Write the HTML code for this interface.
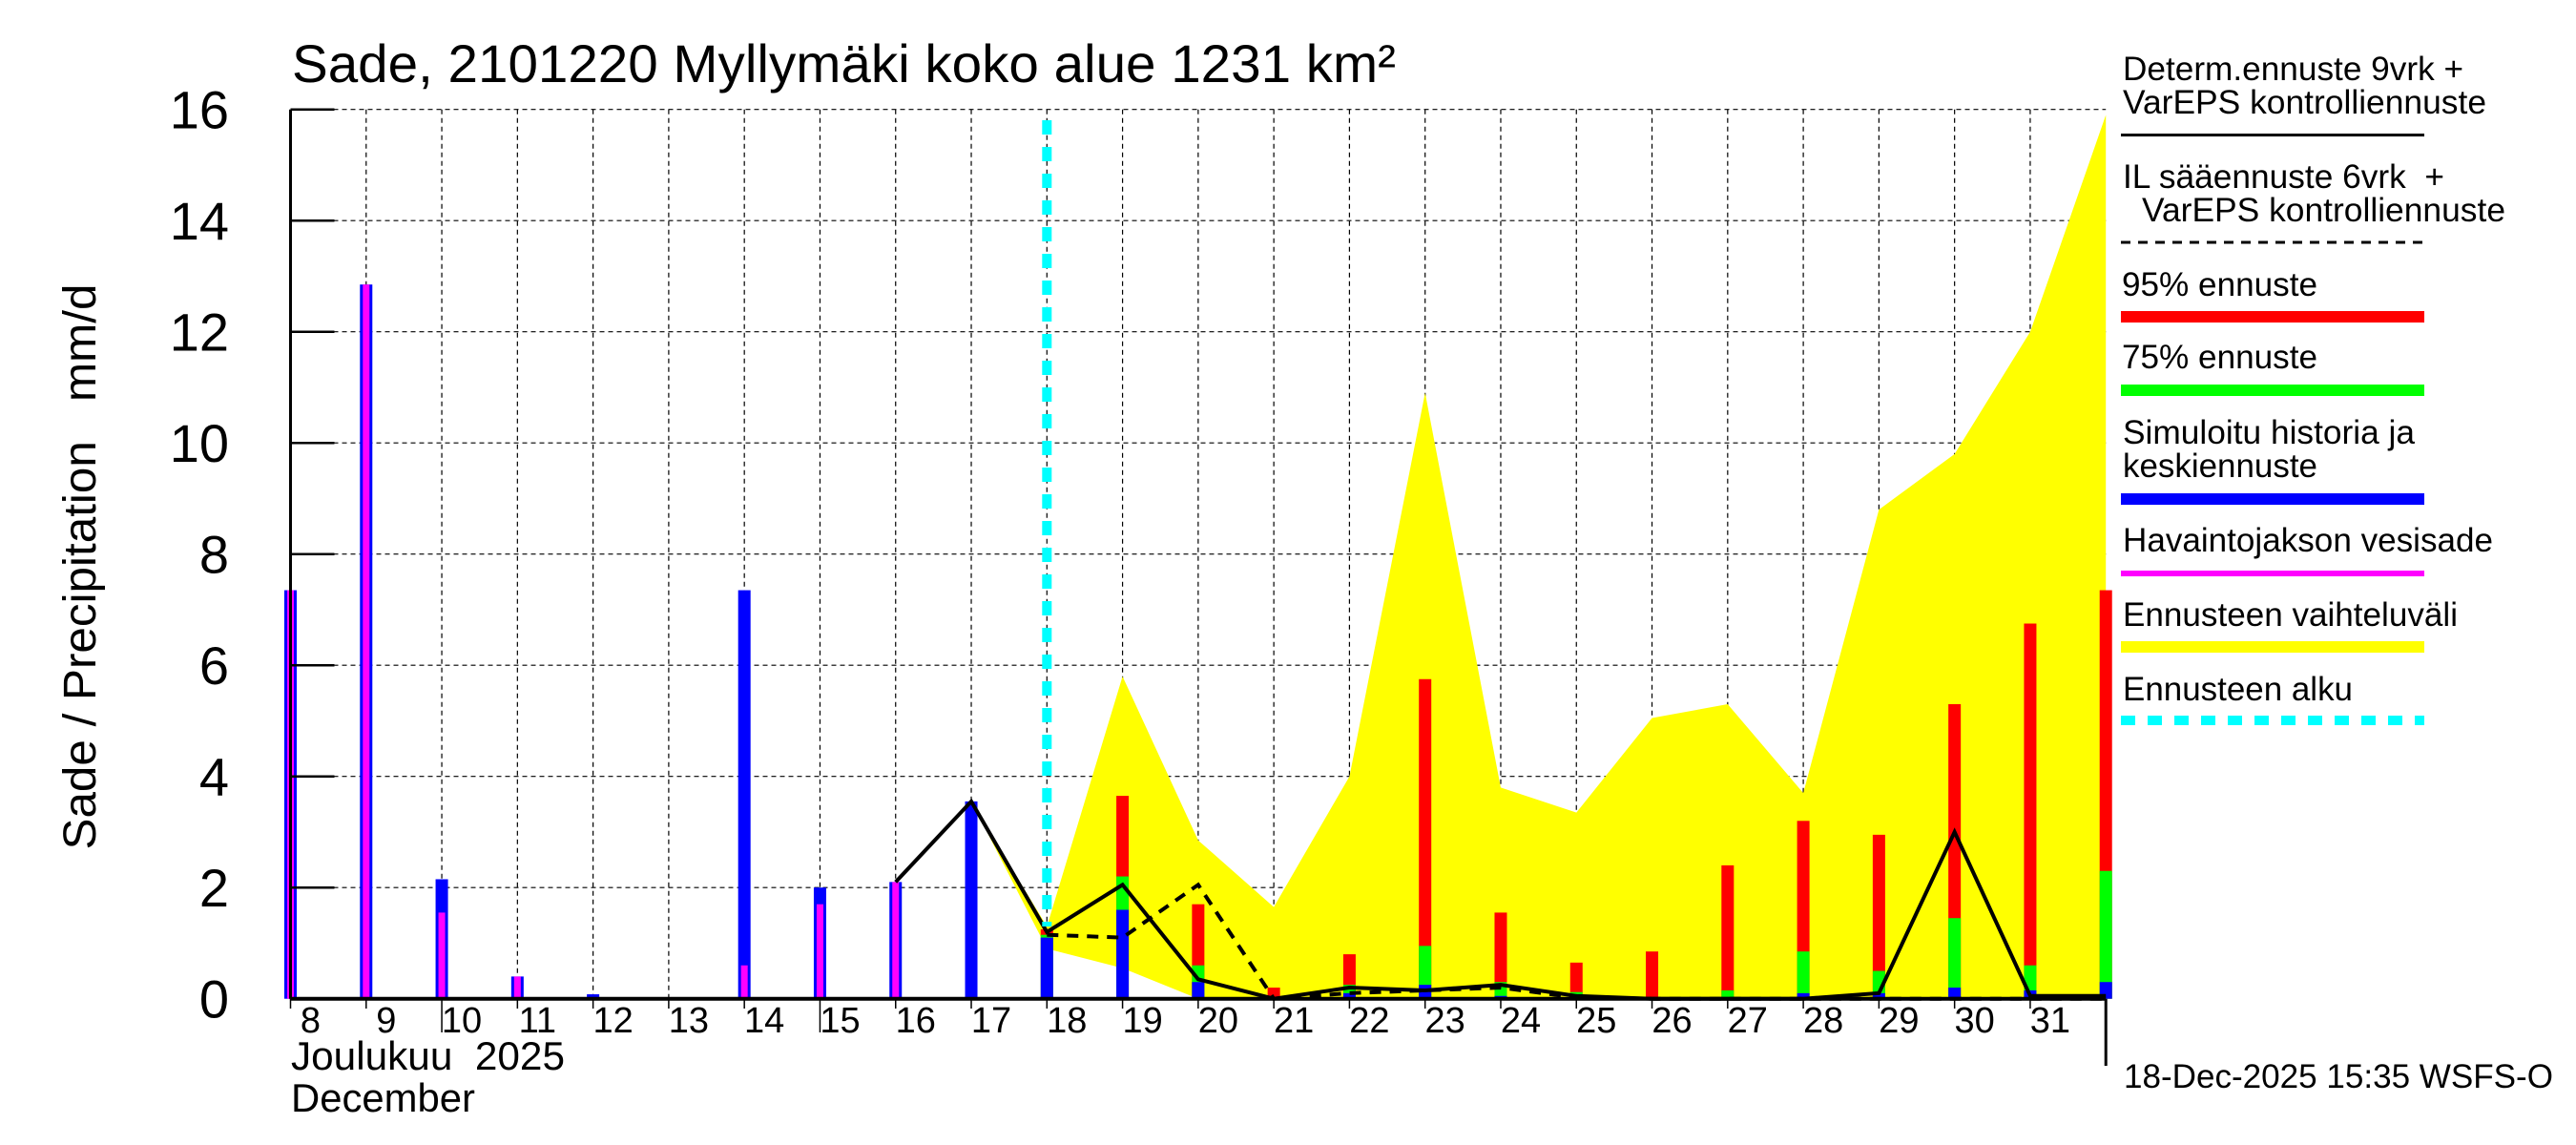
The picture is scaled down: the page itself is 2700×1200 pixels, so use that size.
<!DOCTYPE html>
<html><head><meta charset="utf-8">
<style>
html,body{margin:0;padding:0;background:#fff;}
svg{display:block;font-family:"Liberation Sans",sans-serif;}
</style></head>
<body>
<svg id="chart" width="2700" height="1200" viewBox="0 0 2700 1200" xmlns="http://www.w3.org/2000/svg">
<rect x="0" y="0" width="2700" height="1200" fill="#fff"/>
<text x="306" y="86" font-size="56" textLength="1157" lengthAdjust="spacingAndGlyphs">Sade, 2101220 Myllymäki koko alue 1231 km²</text>
<text transform="translate(100,594) rotate(-90)" text-anchor="middle" font-size="48" textLength="593" lengthAdjust="spacingAndGlyphs">Sade / Precipitation&#160;&#160;&#160;mm/d</text>
<g id="grid"></g>
<g id="band"></g>
<g id="bars"></g>
<g id="lines"></g>
<g id="axes"></g>
<text x="305" y="1121" font-size="42" textLength="287" lengthAdjust="spacingAndGlyphs">Joulukuu&#160;&#160;2025</text>
<text x="305" y="1165" font-size="42" textLength="193" lengthAdjust="spacingAndGlyphs">December</text>
<g id="legend" font-size="35">
  <g>
    <text x="2225" y="84" textLength="357" lengthAdjust="spacingAndGlyphs">Determ.ennuste 9vrk +</text>
    <text x="2225" y="119" textLength="381" lengthAdjust="spacingAndGlyphs">VarEPS kontrolliennuste</text>
    <line x1="2223" y1="141.5" x2="2541" y2="141.5" stroke="#000" stroke-width="3"/>
  </g>
  <g>
    <text x="2225" y="197" textLength="337" lengthAdjust="spacingAndGlyphs">IL sääennuste 6vrk&#160;&#160;+</text>
    <text x="2245" y="232" textLength="381" lengthAdjust="spacingAndGlyphs">VarEPS kontrolliennuste</text>
    <line x1="2223" y1="254" x2="2541" y2="254" stroke="#000" stroke-width="3" stroke-dasharray="10,8"/>
  </g>
  <g>
    <text x="2224" y="310" textLength="205" lengthAdjust="spacingAndGlyphs">95% ennuste</text>
    <line x1="2223" y1="332" x2="2541" y2="332" stroke="#ff0000" stroke-width="12"/>
  </g>
  <g>
    <text x="2224" y="386" textLength="205" lengthAdjust="spacingAndGlyphs">75% ennuste</text>
    <line x1="2223" y1="409" x2="2541" y2="409" stroke="#00ff00" stroke-width="12"/>
  </g>
  <g>
    <text x="2225" y="465" textLength="306" lengthAdjust="spacingAndGlyphs">Simuloitu historia ja</text>
    <text x="2225" y="500" textLength="204" lengthAdjust="spacingAndGlyphs">keskiennuste</text>
    <line x1="2223" y1="523" x2="2541" y2="523" stroke="#0000ff" stroke-width="12"/>
  </g>
  <g>
    <text x="2225" y="578" textLength="388" lengthAdjust="spacingAndGlyphs">Havaintojakson vesisade</text>
    <line x1="2223" y1="601" x2="2541" y2="601" stroke="#ff00ff" stroke-width="6"/>
  </g>
  <g>
    <text x="2225" y="656" textLength="351" lengthAdjust="spacingAndGlyphs">Ennusteen vaihteluväli</text>
    <line x1="2223" y1="678" x2="2541" y2="678" stroke="#ffff00" stroke-width="12"/>
  </g>
  <g>
    <text x="2225" y="734" textLength="241" lengthAdjust="spacingAndGlyphs">Ennusteen alku</text>
    <line x1="2223" y1="755" x2="2541" y2="755" stroke="#00ffff" stroke-width="10" stroke-dasharray="15,13"/>
  </g>
</g>
<text x="2226" y="1140" font-size="35" textLength="450" lengthAdjust="spacingAndGlyphs">18-Dec-2025 15:35 WSFS-O</text>
</svg>
<script>
// ---- data ----
const days = [8,9,10,11,12,13,14,15,16,17,18,19,20,21,22,23,24,25,26,27,28,29,30,31,32];
const dayLabels = ["8","9","10","11","12","13","14","15","16","17","18","19","20","21","22","23","24","25","26","27","28","29","30","31"];
const yTicks = [0,2,4,6,8,10,12,14,16];
// simulated history / mean forecast (blue)
const blueVals = [7.35,12.85,2.15,0.4,0.08,0,7.35,2.0,2.1,3.55,1.1,1.6,0.3,0,0.1,0.25,0.05,0.02,0.01,0,0.1,0.1,0.2,0.15,0.3];
// observed precipitation (magenta), history only
const obsDays = [8,9,10,11,14,15,16];
const obsVals = [7.35,12.85,1.55,0.4,0.6,1.7,2.1];
// forecast percentiles
const fcDays = [18,19,20,21,22,23,24,25,26,27,28,29,30,31,32];
const p75Vals = [1.15,2.2,0.6,0.03,0.25,0.95,0.3,0.12,0.03,0.15,0.85,0.5,1.45,0.6,2.3];
const p95Vals = [1.25,3.65,1.7,0.2,0.8,5.75,1.55,0.65,0.85,2.4,3.2,2.95,5.3,6.75,7.35];
// range band
const bandDays = [17,18,19,20,21,22,23,24,25,26,27,28,29,30,31,32];
const bandUpper = [3.55,1.3,5.8,2.85,1.65,4.0,10.9,3.8,3.35,5.05,5.3,3.7,8.8,9.8,12.0,15.9];
const bandLower = [3.55,0.9,0.55,0,0,0,0,0,0,0,0,0,0,0,0,0];
// deterministic line (solid) and IL line (dashed)
const detDays = [16,17,18,19,20,21,22,23,24,25,26,27,28,29,30,31,32];
const detVals = [2.1,3.55,1.2,2.05,0.35,0,0.2,0.15,0.25,0.05,0,0,0,0.1,3.0,0.05,0.05];
const ilDays = [18,19,20,21,22,23,24,25,26,27,28,29,30,31,32];
const ilVals = [1.15,1.1,2.05,0,0.1,0.15,0.2,0.02,0,0,0,0,0,0,0];
const forecastStart = 18;

// ---- scales ----
const X0=304.5, DX=79.28, Y0=1046.7, YPX=58.25;
const xs = d => X0 + (d-8)*DX;
const ys = v => Y0 - v*YPX;
const NS="http://www.w3.org/2000/svg";
function mk(tag, parent, attrs){const e=document.createElementNS(NS,tag);for(const k in attrs)e.setAttribute(k,attrs[k]);parent.appendChild(e);return e;}

const grid=document.getElementById('grid'), axes=document.getElementById('axes');
const band=document.getElementById('band'), bars=document.getElementById('bars'), lines=document.getElementById('lines');
const XR = xs(32);

yTicks.forEach(v=>{
  if(v>0){
    const g=mk('line',grid,{x1:X0,y1:ys(v),x2:XR,y2:ys(v),stroke:'#000','stroke-width':1.2,'stroke-dasharray':'5,4'});
    
    
    const t=mk('line',axes,{x1:X0,y1:ys(v),x2:X0+46,y2:ys(v),stroke:'#000','stroke-width':2.5});
    
    
  }
  const l=mk('text',axes,{x:240,y:ys(v)+20,'text-anchor':'end','font-size':56});
  l.textContent=v;
  
  
});
days.forEach((d,i)=>{
  if(i>0 && d<32){
    const g=mk('line',grid,{x1:xs(d),y1:ys(16),x2:xs(d),y2:Y0,stroke:'#000','stroke-width':1.2,'stroke-dasharray':'5,4'});
    
    
  }
  const long=(d===10||d===15);
  const t=mk('line',axes,{x1:xs(d),y1:Y0,x2:xs(d),y2:d===32?1117:(long?1082:1057),stroke:'#000','stroke-width':d===32?3:1.5});
  
  
  if(i<dayLabels.length){
    const l=mk('text',axes,{x:xs(d)+21,y:1082,'text-anchor':'middle','font-size':38});
    l.textContent=dayLabels[i];
    
    
  }
});

// band
let pts=[];
bandDays.forEach((d,i)=>pts.push(xs(d)+','+ys(bandUpper[i])));
for(let i=bandDays.length-1;i>=0;i--)pts.push(xs(bandDays[i])+','+ys(bandLower[i]));
const poly=mk('polygon',band,{points:pts.join(' '),fill:'#ffff00'});



// bars
const BW=13;
function bar(d,v0,v1,color,w,name){
  if(v1<=v0)return;
  const r=mk('rect',bars,{x:xs(d)-w/2,y:ys(v1),width:w,height:ys(v0)-ys(v1),fill:color});
  
  
}
fcDays.forEach((d,i)=>{
  bar(d,0,p95Vals[i],'#ff0000',BW,'bar-p95');
  bar(d,0,p75Vals[i],'#00ff00',BW,'bar-p75');
});
days.forEach((d,i)=>bar(d,0,blueVals[i],'#0000ff',BW,'bar-simulated'));
obsDays.forEach((d,i)=>bar(d,0,obsVals[i],'#ff00ff',7,'bar-observed'));

// lines
const det=mk('polyline',lines,{points:detDays.map((d,i)=>xs(d)+','+ys(detVals[i])).join(' '),fill:'none',stroke:'#000','stroke-width':4});


const il=mk('polyline',lines,{points:ilDays.map((d,i)=>xs(d)+','+ys(ilVals[i])).join(' '),fill:'none',stroke:'#000','stroke-width':4,'stroke-dasharray':'12,9'});


const cy=mk('line',lines,{x1:xs(forecastStart),y1:126,x2:xs(forecastStart),y2:ys(1.3),stroke:'#00ffff','stroke-width':10,'stroke-dasharray':'15,13'});



// axis lines
const ya=mk('line',axes,{x1:X0,y1:ys(16),x2:X0,y2:Y0,stroke:'#000','stroke-width':3});


const xa=mk('line',axes,{x1:X0,y1:Y0,x2:XR,y2:Y0,stroke:'#000','stroke-width':4});


</script>
</body></html>
